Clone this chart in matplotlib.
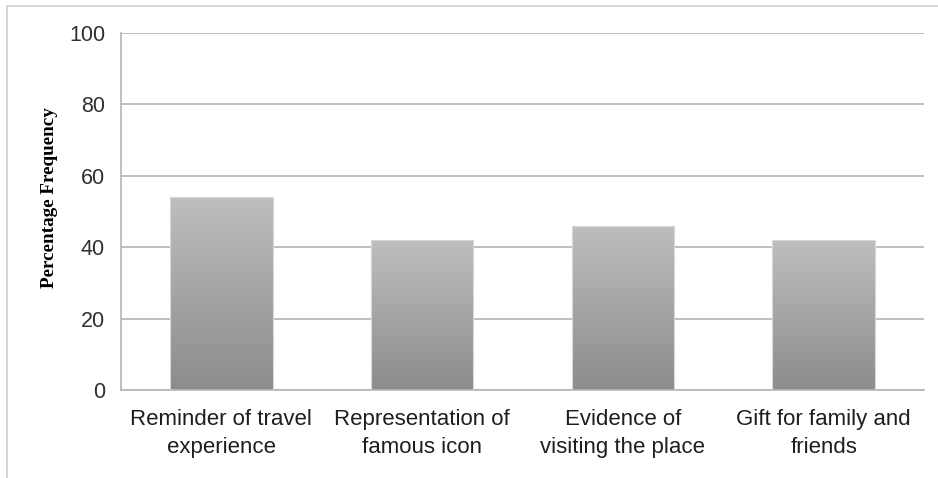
import numpy as np
import matplotlib
matplotlib.use("Agg")
import matplotlib.pyplot as plt
from matplotlib.patches import Rectangle
from matplotlib.colors import LinearSegmentedColormap

categories = ["Reminder of travel\nexperience", "Representation of\nfamous icon",
              "Evidence of\nvisiting the place", "Gift for family and\nfriends"]
values = [54, 42, 46, 42]
yticks = [0, 20, 40, 60, 80, 100]

fig = plt.figure(figsize=(9.38, 4.78), dpi=100)
fig.patches.append(Rectangle((7/938, -0.1), 1.2, (478-6)/478 + 0.1, transform=fig.transFigure,
                             fill=False, edgecolor="#d0d0d0", linewidth=1.2))
ax = fig.add_axes([121/938, 1-390/478, (924-121)/938, (390-33)/478])

x = np.arange(len(categories))
bars = ax.bar(x, values, width=0.51, color="none", edgecolor="#d8d8d8", linewidth=0.8, zorder=3)
grad = np.linspace(0, 1, 256).reshape(-1, 1)
cmap = LinearSegmentedColormap.from_list("g", ["#8c8c8c", "#bebebe"])
for b in bars:
    x0, w, h = b.get_x(), b.get_width(), b.get_height()
    im = ax.imshow(grad, cmap=cmap, aspect="auto", extent=[x0, x0 + w, 0, h],
                   origin="lower", zorder=2)
    im.set_clip_path(b)

ax.set_xlim(-0.5, len(categories) - 0.5)
ax.set_ylim(0, 100)
ax.set_yticks(yticks)
ax.set_yticklabels([str(t) for t in yticks], fontfamily="Liberation Sans", fontsize=15.5, color="#303030")
ax.set_xticks(x)
ax.set_xticklabels(categories, fontfamily="Liberation Sans", fontsize=16, color="#1e1e1e", linespacing=1.4)
ax.tick_params(axis="x", length=0, pad=14)
ax.tick_params(axis="y", length=0, pad=11.5)
ax.grid(axis="y", color="#b4b4b4", linewidth=1.2, zorder=0)
ax.set_axisbelow(True)
for s in ["top", "right"]:
    ax.spines[s].set_visible(False)
for s in ["left", "bottom"]:
    ax.spines[s].set_color("#b4b4b4")
    ax.spines[s].set_linewidth(1.2)
ax.set_ylabel("Percentage Frequency", fontfamily="Liberation Serif", fontweight="bold", fontsize=13.8)
ax.yaxis.set_label_coords(-63/803, (390-198)/357)

fig.savefig("out.png", dpi=100)
